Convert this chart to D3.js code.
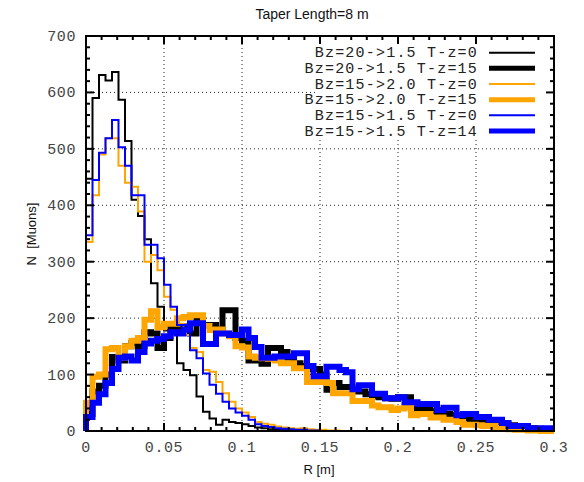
<!DOCTYPE html>
<html><head><meta charset="utf-8">
<script src="https://cdn.jsdelivr.net/npm/d3@7"></script>
<style>html,body{margin:0;padding:0;background:#fff;}svg{display:block;}</style>
</head><body>
<svg id="chart" width="584" height="482"></svg>
<script>
// ---- data ----
const titleText = "Taper Length=8 m";
const xLabel = "R [m]";
const yLabel = "N  [Muons]";
const xTicks = [0, 0.05, 0.1, 0.15, 0.2, 0.25, 0.3];
const xTickLabels = ["0", "0.05", "0.1", "0.15", "0.2", "0.25", "0.3"];
const yTicks = [0, 100, 200, 300, 400, 500, 600, 700];
const binWidthR = 0.3 / 72;

const seriesNames = [
  "Bz=20->1.5 T-z=0",
  "Bz=20->1.5 T-z=15",
  "Bz=15->2.0 T-z=0",
  "Bz=15->2.0 T-z=15",
  "Bz=15->1.5 T-z=0",
  "Bz=15->1.5 T-z=14"
];
const bz20_tz0 = [447,590,631,621,636,587,514,410,381,340, 262,220,178,178,120,108,99,61,34,22, 11,20,16,14,12,9,6,5,3,2, 2,1,1,0,0,1,0,0,0,0, 0,0,0,0,0,0,0,0,0,0, 0,0,0,0,0,0,0,0,0,0, 0,0,0,0,0,0,0,0,0,0,0,0];
const bz20_tz15 = [30,70,80,100,131,125,150,156,150,175, 173,147,165,185,180,185,173,197,188,188, 180,214,214,165,160,125,125,119,147,147, 140,130,120,115,110,110,100,73,85,78, 78,70,70,65,62,60,58,57,60,60, 40,40,38,35,33,30,28,25,23,20, 19,19,17,15,12,10,8,6,5,4,3,2];
const bz15_20_tz0 = [335,418,490,519,519,470,440,433,389,300, 312,285,238,215,190,170,147,140,108,105, 87,67,52,40,33,25,16,13,11,8, 6,5,4,5,3,2,2,1,1,0, 0,0,0,0,0,0,0,0,0,0, 0,0,0,0,0,0,0,0,0,0, 0,0,0,0,0,0,0,0,0,0,0,0];
const bz15_20_tz15 = [50,96,100,145,147,130,150,160,165,197, 212,184,190,190,200,202,205,205,186,179, 180,173,168,150,148,132,130,129,128,125, 120,120,111,111,87,87,87,85,67,67, 67,53,53,53,45,42,42,37,40,43, 28,30,30,24,24,20,20,16,11,11, 10,9,9,5,5,3,2,2,1,1,0,0];
const bz15_15_tz0 = [347,445,493,519,551,503,470,418,418,330, 330,306,259,220,188,188,143,129,102,82, 66,52,40,33,27,20,12,9,7,5, 4,3,2,2,1,1,0,0,0,0, 0,0,0,0,0,0,0,0,0,0, 0,0,0,0,0,0,0,0,0,0, 0,0,0,0,0,0,0,0,0,0,0,0];
const bz15_15_tz14 = [25,50,65,85,110,130,132,125,140,155, 160,163,168,175,173,180,191,191,154,154, 173,173,170,170,180,165,149,130,130,132, 132,132,138,138,115,97,97,114,114,108, 104,74,81,81,66,66,58,58,60,51, 51,48,48,48,37,41,41,28,30,30, 25,25,20,20,14,9,9,9,5,5,5,5];

const seriesValues = [bz20_tz0, bz20_tz15, bz15_20_tz0, bz15_20_tz15, bz15_15_tz0, bz15_15_tz14];
const seriesColors = ["#000000", "#000000", "#ffa500", "#ffa500", "#0000ff", "#0000ff"];
const seriesWidths = [2, 6, 2, 6, 2, 6];

// ---- layout ----
const svg = d3.select("#chart");
const L = 86, R = 554, T = 36, B = 431;
const x = d3.scaleLinear().domain([0, 0.3]).range([L, R]);
const y = d3.scaleLinear().domain([0, 700]).range([B, T]);

// grid
const grid = svg.append("g");
grid.selectAll("line.gx").data(xTicks.slice(1, -1)).enter().append("line")
  .attr("x1", d => x(d)).attr("x2", d => x(d)).attr("y1", T).attr("y2", B)
  .attr("stroke", "#222").attr("stroke-width", 1).attr("stroke-dasharray", "1,3");
grid.selectAll("line.gy").data(yTicks.slice(1, -1)).enter().append("line")
  .attr("x1", L).attr("x2", R).attr("y1", d => y(d)).attr("y2", d => y(d))
  .attr("stroke", "#222").attr("stroke-width", 1).attr("stroke-dasharray", "1,3");

// legend background box (hides grid)
svg.append("rect").attr("x", 316).attr("y", T + 1).attr("width", R - 316 - 1).attr("height", 103).attr("fill", "#fff");

// data
const line = d3.line().x(d => x(d[0])).y(d => y(d[1]));
seriesValues.forEach((vals, si) => {
  const pts = [[0, 0]];
  vals.forEach((v, i) => { pts.push([i * binWidthR, v]); pts.push([(i + 1) * binWidthR, v]); });
  svg.append("path").attr("d", line(pts)).attr("fill", "none")
    .attr("stroke", seriesColors[si]).attr("stroke-width", seriesWidths[si])
    .attr("stroke-linejoin", "miter");
});

// frame
svg.append("rect").attr("x", L).attr("y", T).attr("width", R - L).attr("height", B - T)
  .attr("fill", "none").attr("stroke", "#000").attr("stroke-width", 2);

// ticks (inward, mirrored)
const tk = svg.append("g").attr("stroke", "#000").attr("stroke-width", 2);
const xMinor = d3.range(0, 31).map(i => i / 100);
const yMinor = d3.range(0, 36).map(i => i * 20);
xMinor.forEach(v => {
  const major = Math.abs(v * 20 - Math.round(v * 20)) < 1e-6;
  const len = major ? 8 : 4;
  tk.append("line").attr("x1", x(v)).attr("x2", x(v)).attr("y1", B).attr("y2", B - len);
  tk.append("line").attr("x1", x(v)).attr("x2", x(v)).attr("y1", T).attr("y2", T + len);
});
yMinor.forEach(v => {
  const major = v % 100 === 0;
  const len = major ? 8 : 4;
  tk.append("line").attr("x1", L).attr("x2", L + len).attr("y1", y(v)).attr("y2", y(v));
  tk.append("line").attr("x1", R).attr("x2", R - len).attr("y1", y(v)).attr("y2", y(v));
});

// tick labels
const mono = "'Liberation Mono', 'DejaVu Sans Mono', monospace";
svg.selectAll("text.xt").data(xTicks).enter().append("text")
  .attr("x", d => x(d)).attr("y", 452).attr("text-anchor", "middle")
  .attr("font-family", mono).attr("font-size", 15).attr("letter-spacing", 0.6).attr("fill", "#444")
  .text((d, i) => xTickLabels[i]);
svg.selectAll("text.yt").data(yTicks).enter().append("text")
  .attr("x", 76).attr("y", d => y(d) + 5).attr("text-anchor", "end")
  .attr("font-family", mono).attr("font-size", 15).attr("letter-spacing", 0.6).attr("fill", "#444")
  .text(d => d);

// title & axis labels
const sans = "'Liberation Sans', Arial, sans-serif";
svg.append("text").attr("x", 312).attr("y", 19).attr("text-anchor", "middle")
  .attr("font-family", sans).attr("font-size", 14).attr("fill", "#111").text(titleText);
svg.append("text").attr("x", 319).attr("y", 474).attr("text-anchor", "middle")
  .attr("font-family", sans).attr("font-size", 13).attr("fill", "#111").text(xLabel);
svg.append("text").attr("transform", "translate(36,234) rotate(-90)").attr("text-anchor", "middle")
  .attr("font-family", sans).attr("font-size", 13).attr("fill", "#111")
  .attr("xml:space", "preserve").style("white-space", "pre").text(yLabel);

// legend
seriesNames.forEach((name, i) => {
  const cy = 52.7 + i * 15.66;
  svg.append("text").attr("x", 478).attr("y", cy + 4.5).attr("text-anchor", "end")
    .attr("font-family", mono).attr("font-size", 15).attr("letter-spacing", 1.2).attr("fill", "#222").text(name);
  svg.append("line").attr("x1", 489).attr("x2", 535).attr("y1", cy).attr("y2", cy)
    .attr("stroke", seriesColors[i]).attr("stroke-width", seriesWidths[i] === 6 ? 5 : 2);
});
</script>
</body></html>
